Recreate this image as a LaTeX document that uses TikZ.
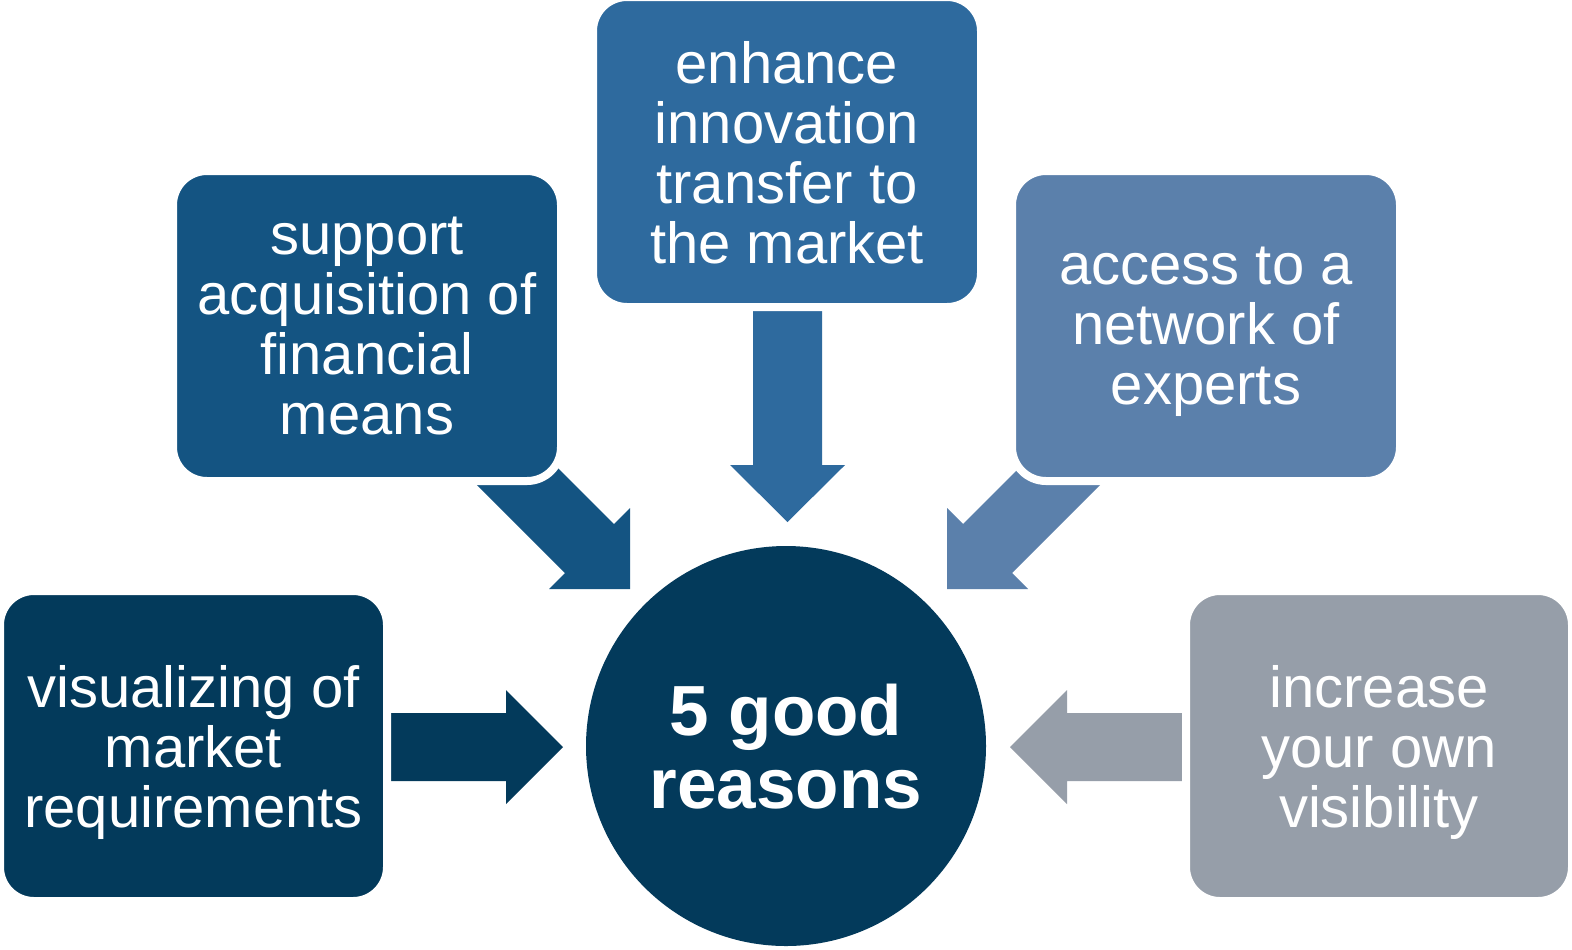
\documentclass[tikz,border=0pt]{standalone}
\usepackage{fontspec}
\setmainfont{Liberation Sans}
\definecolor{cnavy}{HTML}{033A5B}
\definecolor{cdeep}{HTML}{145482}
\definecolor{cmid}{HTML}{2E6A9E}
\definecolor{clight}{HTML}{5B80AB}
\definecolor{cgrey}{HTML}{969EA9}
\begin{document}
\begin{tikzpicture}[x=0.5pt,y=-0.5pt,
  box/.style={rectangle, rounded corners=17pt, draw=white, line width=4pt,
    minimum width=194pt, minimum height=155pt, inner sep=0pt, text=white,
    align=center, font=\fontsize{29}{30}\selectfont, text depth=0pt},
  hubstyle/.style={circle, minimum size=200pt, inner sep=0pt, text=white,
    align=center, font=\bfseries\fontsize{35.5}{36.5}\selectfont, text depth=0pt},
  blockarrow/.style={draw=none}]
\useasboundingbox (0,0) rectangle (1572,949);
\fill[white] (0,0) rectangle (1572,949);

% block arrows (drawn first, boxes cover their back ends)
\fill[cmid] (753,290) -- (822,290) -- (822,465) -- (845,465) -- (787.5,522) -- (730,465) -- (753,465) -- cycle;
\fill[cnavy] (370,713) -- (506,713) -- (506,690) -- (563,747) -- (506,804) -- (506,781) -- (370,781) -- cycle;
\fill[cgrey] (1200,713) -- (1067,713) -- (1067,690) -- (1010,747) -- (1067,804) -- (1067,781) -- (1200,781) -- cycle;
\fill[cdeep] (446,454) -- (495,405) -- (614,524) -- (630,508) -- (630,589) -- (549,589) -- (565,573) -- cycle;
\fill[clight] (1131,454) -- (1082,405) -- (963,524) -- (947,508) -- (947,589) -- (1028,589) -- (1012,573) -- cycle;

% boxes
\node[box, fill=cnavy, minimum width=193.5pt] (visual) at (193.5,746) {visualizing of\\market\\requirements};
\node[box, fill=cdeep] (support) at (367,326) {support\\acquisition of\\financial\\means};
\node[box, fill=cmid] (enhance) at (787,152) {enhance\\innovation\\transfer to\\the market};
\node[box, fill=clight] (access) at (1206,326) {access to a\\network of\\experts};
\node[box, fill=cgrey, minimum width=193pt] (increase) at (1379,746) {increase\\your own\\visibility};

% hub
\node[hubstyle, fill=cnavy] (hub) at (786,746) {5 good\\reasons};
\end{tikzpicture}
\end{document}
